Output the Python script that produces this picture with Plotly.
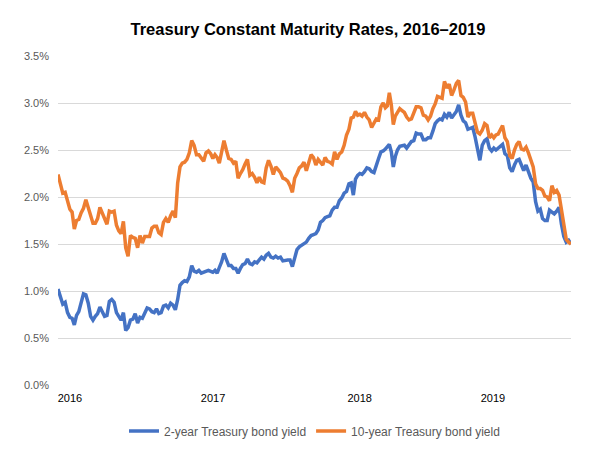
import calendar
import datetime as dt
import plotly.graph_objects as go

# Month labels (YYYY-MM) covered by the data, Jan 2016 - Aug 2019
months = [f"{y}-{m:02d}" for y in range(2016, 2020) for m in range(1, 13)][:44]

# 10-year Treasury constant maturity yield (%), sampled within each month
ten_year_2016 = [
    [2.24, 2.13, 2.04, 2.05, 1.94], [1.87, 1.84, 1.66, 1.75, 1.76],
    [1.83, 1.88, 1.97, 1.88, 1.78], [1.72, 1.72, 1.77, 1.89, 1.83],
    [1.78, 1.71, 1.85, 1.84, 1.85], [1.70, 1.64, 1.61, 1.74, 1.46],
    [1.37, 1.59, 1.57, 1.56, 1.46], [1.59, 1.51, 1.58, 1.58, 1.58],
    [1.67, 1.69, 1.69, 1.62, 1.60], [1.73, 1.77, 1.73, 1.80, 1.85],
    [1.78, 2.15, 2.32, 2.36, 2.37], [2.40, 2.47, 2.60, 2.55, 2.45],
]
ten_year_2017 = [
    [2.45, 2.42, 2.38, 2.47, 2.49], [2.46, 2.41, 2.45, 2.42, 2.36],
    [2.49, 2.60, 2.50, 2.41, 2.40], [2.36, 2.38, 2.20, 2.25, 2.29],
    [2.35, 2.40, 2.23, 2.25, 2.21], [2.15, 2.21, 2.16, 2.15, 2.31],
    [2.39, 2.33, 2.24, 2.32, 2.29], [2.26, 2.20, 2.19, 2.17, 2.12],
    [2.05, 2.20, 2.25, 2.31, 2.33], [2.37, 2.28, 2.38, 2.45, 2.42],
    [2.34, 2.40, 2.37, 2.34, 2.42], [2.38, 2.37, 2.35, 2.48, 2.40],
]
ten_year_2018 = [
    [2.46, 2.48, 2.55, 2.66, 2.72], [2.84, 2.85, 2.91, 2.87, 2.88],
    [2.86, 2.90, 2.85, 2.82, 2.74], [2.78, 2.83, 2.82, 2.96, 3.00],
    [2.95, 2.97, 3.11, 2.98, 2.77, 2.86], [2.90, 2.94, 2.92, 2.90, 2.85],
    [2.82, 2.83, 2.89, 2.96, 2.96], [2.95, 2.87, 2.86, 2.82, 2.86],
    [2.94, 2.99, 3.07, 3.06, 3.05], [3.23, 3.16, 3.20, 3.08, 3.14],
    [3.21, 3.24, 3.08, 3.06, 3.01], [2.85, 2.89, 2.89, 2.79, 2.69],
]
ten_year_2019 = [
    [2.67, 2.71, 2.78, 2.76, 2.63], [2.66, 2.63, 2.66, 2.67, 2.72],
    [2.76, 2.63, 2.59, 2.44, 2.41], [2.50, 2.56, 2.59, 2.51, 2.50],
    [2.53, 2.47, 2.39, 2.32, 2.14], [2.09, 2.09, 2.07, 2.01, 2.00],
    [1.96, 2.12, 2.05, 2.07, 2.02], [1.86, 1.74, 1.55, 1.52, 1.50],
]

# 2-year Treasury constant maturity yield (%), sampled within each month
two_year_2016 = [
    [1.02, 0.95, 0.86, 0.88, 0.77], [0.72, 0.71, 0.64, 0.74, 0.78],
    [0.86, 0.97, 0.96, 0.87, 0.73], [0.69, 0.73, 0.76, 0.83, 0.78],
    [0.73, 0.74, 0.89, 0.91, 0.88], [0.77, 0.73, 0.69, 0.77, 0.58],
    [0.61, 0.69, 0.70, 0.76, 0.66], [0.72, 0.71, 0.76, 0.82, 0.81],
    [0.78, 0.77, 0.81, 0.76, 0.77], [0.84, 0.85, 0.82, 0.87, 0.85],
    [0.80, 0.91, 1.06, 1.09, 1.11], [1.10, 1.15, 1.27, 1.21, 1.20],
]
two_year_2017 = [
    [1.22, 1.19, 1.20, 1.21, 1.22], [1.21, 1.20, 1.22, 1.19, 1.25],
    [1.31, 1.40, 1.32, 1.27, 1.27], [1.24, 1.24, 1.19, 1.24, 1.28],
    [1.29, 1.34, 1.29, 1.28, 1.31], [1.30, 1.33, 1.36, 1.34, 1.38],
    [1.40, 1.36, 1.35, 1.37, 1.35], [1.36, 1.32, 1.33, 1.33, 1.33],
    [1.26, 1.35, 1.44, 1.47, 1.49], [1.51, 1.52, 1.56, 1.59, 1.60],
    [1.61, 1.65, 1.73, 1.75, 1.78], [1.79, 1.80, 1.86, 1.89, 1.89],
]
two_year_2018 = [
    [1.96, 1.99, 2.04, 2.06, 2.14], [2.15, 2.02, 2.19, 2.23, 2.25],
    [2.24, 2.27, 2.31, 2.30, 2.27], [2.26, 2.35, 2.41, 2.48, 2.49],
    [2.51, 2.53, 2.56, 2.48, 2.32, 2.43], [2.50, 2.54, 2.55, 2.55, 2.52],
    [2.55, 2.59, 2.60, 2.68, 2.67], [2.67, 2.61, 2.61, 2.63, 2.63],
    [2.70, 2.78, 2.81, 2.83, 2.82], [2.88, 2.85, 2.90, 2.84, 2.87],
    [2.91, 2.98, 2.87, 2.81, 2.79], [2.72, 2.73, 2.74, 2.64, 2.49],
]
two_year_2019 = [
    [2.39, 2.55, 2.60, 2.62, 2.52], [2.49, 2.52, 2.50, 2.52, 2.55],
    [2.56, 2.46, 2.44, 2.31, 2.27], [2.34, 2.39, 2.40, 2.34, 2.28],
    [2.34, 2.26, 2.20, 2.16, 1.95], [1.85, 1.87, 1.77, 1.75, 1.75],
    [1.86, 1.84, 1.82, 1.85, 1.89], [1.71, 1.58, 1.52, 1.54, 1.50],
]

year_ticks = ["2016", "2017", "2018", "2019"]
year_tick_dates = ["2016-02-04", "2017-02-10", "2018-02-26", "2019-02-07"]


def flatten(monthly_lists):
    xs, ys = [], []
    for label, vals in zip(months, monthly_lists):
        y, m = map(int, label.split("-"))
        ndays = calendar.monthrange(y, m)[1]
        start = dt.datetime(y, m, 1)
        k = len(vals)
        for i, v in enumerate(vals):
            xs.append(start + dt.timedelta(days=(i + 0.5) * ndays / k))
            ys.append(v)
    return xs, ys


x10, y10 = flatten(ten_year_2016 + ten_year_2017 + ten_year_2018 + ten_year_2019)
x2, y2 = flatten(two_year_2016 + two_year_2017 + two_year_2018 + two_year_2019)

BLUE = "#4472C4"
ORANGE = "#ED7D31"
FONT = "Liberation Sans"

fig = go.Figure()
fig.add_trace(go.Scatter(x=x2, y=y2, mode="lines", name="2-year Treasury bond yield",
                         line=dict(color=BLUE, width=3.5)))
fig.add_trace(go.Scatter(x=x10, y=y10, mode="lines", name="10-year Treasury bond yield",
                         line=dict(color=ORANGE, width=3.5)))

fig.update_layout(
    width=600, height=450,
    margin=dict(l=50, r=37, t=48, b=68),
    paper_bgcolor="white", plot_bgcolor="white",
    title=dict(text="<b>Treasury Constant Maturity Rates, 2016–2019</b>",
               x=0.5, xanchor="center", y=0.952, yanchor="middle",
               font=dict(family=FONT, size=16.5, color="#000000")),
    font=dict(family=FONT, size=11, color="#595959"),
    showlegend=True,
    legend=dict(orientation="h", x=0.5, xanchor="center", y=-0.14, yanchor="middle",
                font=dict(family=FONT, size=12, color="#595959"), itemwidth=30,
                traceorder="normal"),
)
fig.update_xaxes(
    range=[x10[0], x10[-1]],
    tickvals=year_tick_dates, ticktext=year_ticks,
    showgrid=False, showline=False, zeroline=False, ticks="",
    ticklabelstandoff=5,
    tickfont=dict(family=FONT, size=11, color="#000000"),
)
fig.update_yaxes(
    range=[0, 3.5], dtick=0.5, tickformat=".1f", ticksuffix="%",
    showgrid=True, gridcolor="#D9D9D9", gridwidth=1,
    zeroline=False, showline=False, ticks="",
    ticklabelstandoff=8,
    tickfont=dict(family=FONT, size=11, color="#595959"),
)

fig.write_html("out.html")
